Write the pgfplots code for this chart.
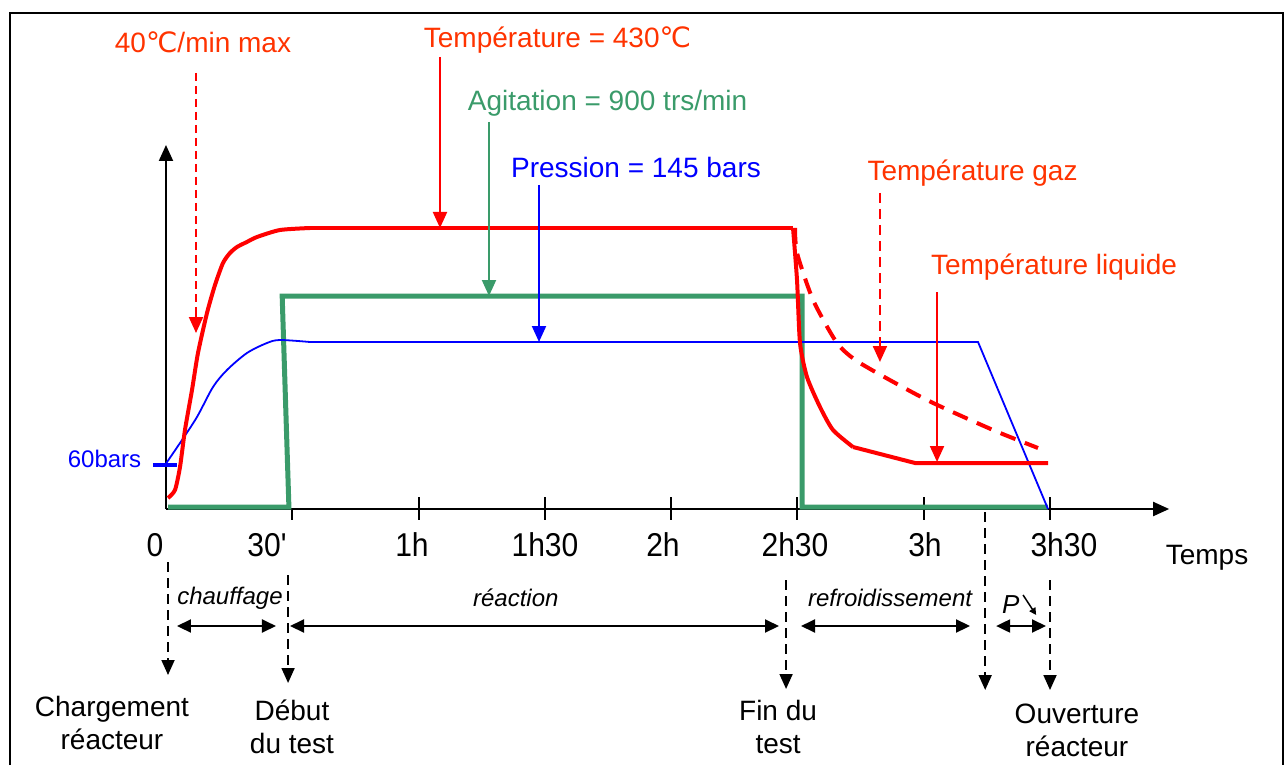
\documentclass[border=0pt]{standalone}
\usepackage{graphicx}
\usepackage{pgfplots}
\pgfplotsset{compat=1.18}
\usepackage{fontspec}
\setmainfont{Liberation Sans}
\newfontfamily\dejavu{DejaVu Sans}
\newfontfamily\nolig{Liberation Sans}
\usetikzlibrary{arrows.meta}
\definecolor{cred}{RGB}{255,0,0}
\definecolor{lred}{RGB}{255,51,0}
\definecolor{cgreen}{RGB}{58,155,106}
\definecolor{cblue}{RGB}{0,0,255}
\newcommand{\degc}{{\dejavu\symbol{"2103}}}
\newcommand{\lab}{\fontsize{28}{33}\selectfont}
\newcommand{\tlab}{\nolig\fontsize{33}{36}\selectfont}
\newcommand{\tk}[1]{\scalebox{0.91}[1]{#1}}
\newcommand{\ilab}{\fontsize{24}{28}\selectfont\itshape}
\tikzset{
  ah/.style={-{Triangle[length=16pt,width=14pt]}},
  bh/.style={-{Triangle[length=15pt,width=13pt]}},
  dh/.style={{Triangle[length=14pt,width=13pt]}-{Triangle[length=14pt,width=13pt]}},
}
\begin{document}
\begin{tikzpicture}
\begin{axis}[scale only axis, width=1286pt, height=765pt,
  xmin=-39.43, xmax=266.06, ymin=-256, ymax=509,
  hide axis, clip=false]
% full-size bounding box
\path (-39.43,-256) rectangle (266.06,509);
% frame
\draw[line width=2.5pt] (-37.06,-256) -- (-37.06,496) -- (265.35,496) -- (265.35,-256);
% axes
\draw[line width=2pt, ah] (0,0) -- (0,364);
\draw[line width=2pt, ah] (0,0) -- (238.3,0);
\draw[line width=2pt] (30,0) -- (30,-11);
\draw[line width=2pt] (60,12) -- (60,-11);
\draw[line width=2pt] (90,12) -- (90,-11);
\draw[line width=2pt] (120,12) -- (120,-11);
\draw[line width=2pt] (150,12) -- (150,-11);
\draw[line width=2pt] (180,12) -- (180,-11);
\draw[line width=2pt] (210,12) -- (210,-11);
% tick labels
\node[font=\tlab] at (-2.61,-36) {\tk{0}};
\node[font=\tlab] at (23.99,-36) {\tk{30\symbol{"27}}};
\node[font=\tlab] at (58.44,-36) {\tk{1h}};
\node[font=\tlab] at (90.03,-36) {\tk{1h30}};
\node[font=\tlab] at (118.06,-36) {\tk{2h}};
\node[font=\tlab] at (149.42,-36) {\tk{2h30}};
\node[font=\tlab] at (180.3,-36) {\tk{3h}};
\node[font=\tlab] at (213.3,-36) {\tk{3h30}};
\node[font=\lab] at (247.3,-49) {Temps};

% Agitation (green)
\addplot[cgreen, line width=5pt, mark=none, line join=miter] coordinates {
(0.48,2) (29.2,2) (27.6,213) (151.1,213) (151.1,2) (209.5,2)};
% Pression (blue)
\addplot[cblue, line width=4pt, mark=none] coordinates {(-3.09,44) (2.61,44)};
\addplot[cblue, line width=1.8pt, mark=none, smooth] coordinates {
(-0.24,44) (3.33,66) (7.36,92) (11.17,122) (14.49,139) (19.24,156) (23.99,166) (27.08,169) (34.21,167)};
\addplot[cblue, line width=1.8pt, mark=none] coordinates {
(34.21,167) (192.9,167) (209.52,0)};
% Temperature (red)
\addplot[cred, line width=4pt, mark=none, smooth, tension=0.4] coordinates {
(0.48,11) (2.14,19) (3.33,42) (4.51,79) (6.18,119) (7.60,156) (9.74,196) (11.64,224) (13.54,246) (15.2,256) (16.87,262) (19.2,267) (21.62,272) (27.08,279) (34.21,281)};
\addplot[cred, line width=4pt, mark=none] coordinates {(34.21,281) (148.95,281)};
\addplot[cred, line width=4pt, mark=none, smooth, tension=0.4] coordinates {
(148.95,281) (149.9,229) (150.61,166) (152.27,132) (155.36,102) (158.45,79) (163.2,62)};
\addplot[cred, line width=4pt, mark=none] coordinates {(163.2,62) (177.93,46) (209.52,46)};
% Temperature gaz (red dashed)
\addplot[cred, line width=4pt, mark=none, dash pattern=on 16pt off 10pt, smooth, tension=0.4] coordinates {
(149.42,281) (149.9,256) (153.71,209) (159.41,166) (164.86,146) (180.78,109) (196.46,79) (207.15,61)};

% labels & annotation arrows
\node[font=\lab, text=lred] at (8.79,467) {40\degc/min max};
\draw[cred, line width=2pt, dash pattern=on 8pt off 5pt] (7.13,436) -- (7.13,190);
\draw[cred, line width=2pt, ah] (7.13,195) -- (7.13,176);

\node[font=\lab, text=lred] at (93.0,469) {Température = 430\degc};
\draw[cred, line width=2pt, ah] (65.09,452) -- (65.09,281);

\node[font=\lab, text=cgreen] at (104.9,406) {Agitation = 900 trs/min};
\draw[cgreen, line width=2pt, ah] (76.73,387) -- (76.73,213);

\node[font=\lab, text=cblue] at (111.65,342) {Pression = 145 bars};
\draw[cblue, line width=2pt, ah] (88.61,324) -- (88.61,167);

\node[font=\lab, text=lred] at (191.6,336) {Température gaz};
\draw[cred, line width=2pt, dash pattern=on 10pt off 6pt] (169.6,316) -- (169.6,162);
\draw[cred, line width=2pt, ah] (169.6,166) -- (169.6,147);

\node[font=\lab, text=lred] at (210.95,242) {Température liquide};
\draw[cred, line width=2pt, ah] (183.16,217) -- (183.16,47);

\node[font=\fontsize{24}{28}\selectfont, text=cblue] at (-14.6,50) {60bars};

% timeline
\draw[line width=1.8pt, dash pattern=on 10pt off 6pt, bh] (0.48,-53) -- (0.48,-166);
\draw[line width=1.8pt, dash pattern=on 10pt off 6pt, bh] (29.0,-66) -- (29.0,-174);
\draw[line width=1.8pt, dash pattern=on 10pt off 6pt, bh] (147.3,-71) -- (147.3,-180);
\draw[line width=1.8pt, dash pattern=on 10pt off 6pt, bh] (194.6,-3) -- (194.6,-181);
\draw[line width=1.8pt, dash pattern=on 10pt off 6pt, bh] (210.0,-71) -- (210.0,-181);

\draw[line width=2pt, dh] (2.61,-117) -- (26.13,-117);
\draw[line width=2pt, dh] (29.46,-117) -- (145.62,-117);
\draw[line width=2pt, dh] (150.85,-117) -- (191.0,-117);
\draw[line width=2pt, dh] (197.2,-117) -- (209.05,-117);

\node[font=\ilab] at (15.2,-89) {chauffage};
\node[font=\ilab] at (83.1,-89) {réaction};
\node[font=\ilab] at (172.0,-89) {refroidissement};
\node[font=\fontsize{26}{30}\selectfont\itshape] at (200.7,-96) {P};
\draw[line width=1.5pt, -{Triangle[length=7pt,width=7pt]}] (203.6,-86) -- (206.7,-106);

\node[font=\lab, align=center] at (-12.83,-214) {Chargement\\réacteur};
\node[font=\lab, align=center] at (29.93,-217.5) {Début\\du test};
\node[font=\lab, align=center] at (145.4,-217.5) {Fin du\\test};
\node[font=\lab, align=center] at (216.4,-221.5) {Ouverture\\réacteur};
\end{axis}
\end{tikzpicture}
\end{document}
